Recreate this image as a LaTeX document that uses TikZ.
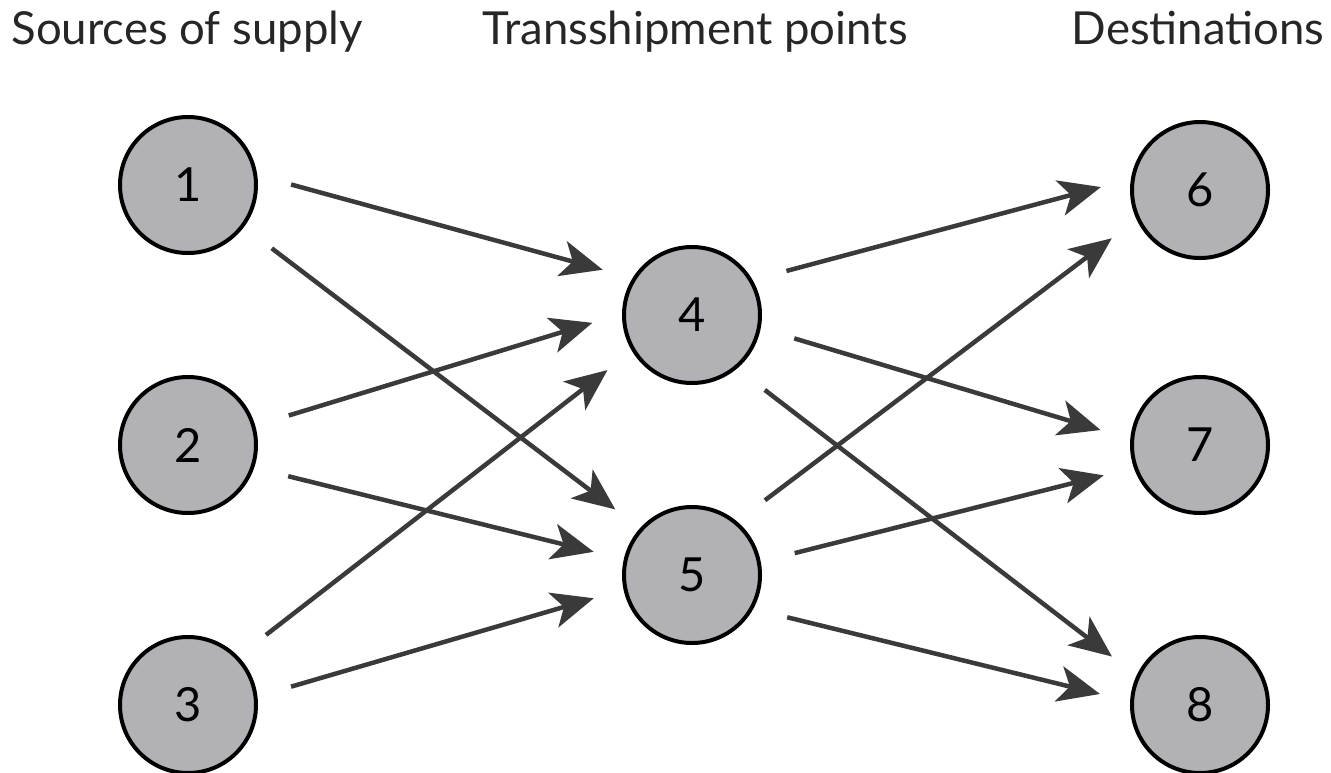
\documentclass[tikz,border=0pt]{standalone}
\usepackage{fontspec}
\setmainfont{Lato}
\usetikzlibrary{arrows.meta}
\definecolor{sitefill}{RGB}{178,178,182}
\definecolor{flowgray}{RGB}{58,58,58}

\begin{document}
\begin{tikzpicture}[x=1pt,y=-1pt,
    site/.style={circle, draw=black, line width=4pt, fill=sitefill, minimum size=136pt, inner sep=0pt, font=\fontsize{47}{56}\selectfont},
    head/.style={anchor=base, font=\fontsize{45.5}{54}\selectfont, text=black!85},
    flow/.style={draw=flowgray, line width=4.5pt, -{Stealth[length=42pt,width=36pt,inset=11pt]}, shorten <=35pt, shorten >=31pt}]
    \useasboundingbox (0,0) rectangle (1331,772);
    \node[head] (hsrc) at (187,44) {Sources of supply};
    \node[head] (hmid) at (695,44) {Transshipment points};
    \node[head] (hdst) at (1198,44) {Destinations};
    \node[site] (n1) at (188,185) {1};
    \node[site] (n2) at (188,445) {2};
    \node[site] (n3) at (188,705) {3};
    \node[site] (n4) at (692,315) {4};
    \node[site] (n5) at (692,575) {5};
    \node[site] (n6) at (1200,190) {6};
    \node[site] (n7) at (1200,445) {7};
    \node[site] (n8) at (1200,705) {8};
    \foreach \a/\b in {n1.8/n4.148, n1.-37/n5.138, n2.16/n4.179, n2.-19/n5.167,
                       n3.44/n4.-149, n3.7/n5.-168, n4.30/n6.171, n4.-11/n7.175,
                       n4.-50/n8.155, n5.50/n6.-155, n5.11/n7.-161, n5.-29/n8.177}
        \draw[flow] (\a) -- (\b);
\end{tikzpicture}
\end{document}
